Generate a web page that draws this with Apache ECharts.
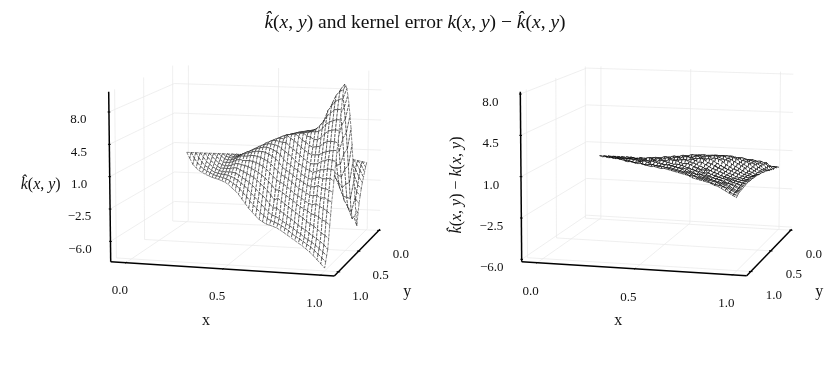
<!DOCTYPE html>
<html><head><meta charset="utf-8">
<style>html,body{margin:0;padding:0;background:#fff}#c{width:830px;height:374px}</style>
<script src="https://cdn.jsdelivr.net/npm/echarts@6/dist/echarts.min.js"></script>
</head><body><div id="c"></div>
<script>
// ---- chart values: rows are x = i/40, entries are y = j/40 for j = 0..i (triangle y <= x) ----
const kernelRows = [
[0],
[0,-.6],
[0,-.6,-1.2],
[0,-.5,-1,-1.5],
[0,-.4,-.9,-1.3,-1.7],
[0,-.4,-.8,-1.2,-1.5,-1.8],
[0,-.3,-.7,-1,-1.3,-1.6,-1.9],
[0,-.3,-.6,-.9,-1.2,-1.5,-1.7,-1.95],
[0,-.2,-.5,-.8,-1.1,-1.3,-1.6,-1.8,-2],
[0,-.2,-.4,-.7,-.9,-1.2,-1.4,-1.6,-1.8,-2],
[0,-.1,-.2,-.4,-.6,-.9,-1.1,-1.4,-1.6,-1.8,-2],
[0,0,-.1,-.2,-.3,-.5,-.8,-1,-1.3,-1.5,-1.8,-2.05],
[0,0,0,0,0,-.1,-.3,-.6,-.9,-1.2,-1.5,-1.8,-2.1],
[0,.05,.1,.2,.3,.3,.2,0,-.3,-.7,-1.1,-1.5,-1.9,-2.25],
[0,.1,.2,.3,.5,.6,.6,.5,.2,-.2,-.6,-1.1,-1.6,-2.1,-2.5],
[0,.1,.2,.4,.6,.8,.9,.8,.6,.2,-.2,-.7,-1.2,-1.7,-2.2,-2.7],
[0,.1,.3,.5,.7,.9,1.1,1.1,1,.7,.3,-.2,-.8,-1.4,-1.9,-2.5,-3],
[0,.1,.3,.5,.8,1,1.2,1.4,1.4,1.2,.9,.4,-.2,-.9,-1.5,-2.1,-2.8,-3.4],
[0,.1,.3,.6,.8,1.1,1.4,1.6,1.7,1.6,1.4,1,.4,-.3,-1,-1.7,-2.4,-3.1,-3.8],
[0,.2,.4,.6,.9,1.2,1.5,1.8,1.9,2,1.8,1.5,1,.4,-.4,-1.1,-1.9,-2.7,-3.5,-4.2],
[0,.2,.4,.7,1,1.3,1.6,1.9,2.1,2.3,2.2,2,1.6,1,.3,-.5,-1.3,-2.2,-3,-3.8,-4.5],
[0,.2,.4,.7,1,1.4,1.7,2,2.3,2.5,2.55,2.4,2.1,1.6,.9,.2,-.7,-1.6,-2.5,-3.3,-4.1,-4.8],
[0,.2,.5,.8,1.1,1.5,1.8,2.1,2.4,2.7,2.8,2.8,2.5,2.1,1.5,.8,0,-.9,-1.8,-2.7,-3.6,-4.4,-5.05],
[0,.2,.5,.8,1.2,1.5,1.9,2.3,2.6,2.8,3,3.05,2.9,2.5,2,1.4,.6,-.3,-1.2,-2.1,-3,-3.9,-4.6,-5.2],
[0,.2,.5,.8,1.2,1.6,2,2.4,2.7,3,3.2,3.3,3.2,2.9,2.5,1.9,1.2,.3,-.6,-1.5,-2.5,-3.4,-4.2,-4.8,-5.3],
[0,.2,.5,.8,1.2,1.6,2,2.4,2.8,3.1,3.3,3.5,3.5,3.2,2.9,2.3,1.7,.9,0,-.9,-1.9,-2.9,-3.7,-4.4,-4.9,-5.3],
[0,.2,.5,.8,1.2,1.6,2,2.5,2.9,3.2,3.45,3.6,3.65,3.7,3.7,3,2.08,1.27,.46,-.26,-.98,-1.79,-2.6,-3.59,-4.4,-4.94,-5.3],
[0,.2,.4,.8,1.2,1.6,2,2.5,2.9,3.3,3.55,3.7,3.8,3.85,3.85,3.48,2.65,1.92,1,.26,-.38,-1.12,-1.95,-2.77,-3.79,-4.52,-4.98,-5.35],
[0,.1,.4,.7,1.1,1.6,2,2.5,3,3.4,3.65,3.85,3.95,4,4,4,3.34,2.49,1.64,.88,.13,-.54,-1.29,-2.14,-3,-3.94,-4.69,-5.07,-5.45],
[0,.1,.3,.6,1,1.5,2,2.5,3,3.4,3.75,3.95,4.05,4.1,4.1,4.1,3.81,3.03,2.26,1.38,.61,-.07,-.75,-1.53,-2.3,-3.18,-4.15,-4.82,-5.21,-5.6],
[0,.1,.2,.5,.9,1.3,1.8,2.4,2.9,3.4,3.75,4,4.15,4.2,4.2,4.2,4.2,3.5,2.81,2.01,1.12,.52,-.28,-.97,-1.77,-2.47,-3.36,-4.26,-4.95,-5.35,-5.75],
[0,0,.1,.3,.6,1,1.5,2.1,2.7,3.3,3.7,4,4.2,4.3,4.3,4.3,4.3,4,3.38,2.57,1.75,1.04,.22,-.39,-1.21,-1.92,-2.74,-3.55,-4.47,-5.08,-5.59,-5.9],
[0,-.1,-.1,0,.2,.6,1.1,1.7,2.4,3,3.5,3.95,4.25,4.4,4.5,4.5,4.5,4.5,3.97,3.13,2.39,1.55,.81,.07,-.56,-1.3,-2.04,-2.89,-3.73,-4.68,-5.31,-5.73,-6.05],
[0,-.2,-.4,-.5,-.5,-.3,.2,.9,1.8,2.6,3.3,3.9,4.35,4.6,4.75,4.8,4.8,4.8,4.58,3.81,3.04,2.27,1.39,.73,-.04,-.7,-1.47,-2.24,-3.01,-3.89,-4.88,-5.43,-5.87,-6.2],
[0,-.2,-.4,-.6,-.8,-.9,-.9,-.8,-.3,.4,1.3,2.3,3.2,4,4.6,5,5.2,5.3,5.3,4.72,3.9,3.2,2.39,1.46,.64,-.06,-.76,-1.57,-2.39,-3.09,-4.14,-4.95,-5.65,-6,-6.35],
[0,-.3,-.6,-.9,-1.2,-1.5,-1.7,-1.7,-1.4,-.7,.2,1.2,2.3,3.4,4.4,5.1,5.6,5.9,6,5.75,5.12,4.24,3.36,2.49,1.61,.85,.23,-.65,-1.53,-2.41,-3.29,-4.29,-5.17,-5.8,-6.17,-6.55],
[-.1,-.3,-.7,-1.2,-1.7,-2.1,-2.5,-2.8,-2.6,-1.9,-.9,.3,1.6,2.9,4.1,5.2,6,6.6,7,7.1,6.55,5.72,4.75,3.78,2.81,1.98,1.14,.45,-.38,-1.35,-2.18,-3.29,-4.4,-5.37,-5.92,-6.33,-6.75],
[-.1,-.4,-.9,-1.5,-2.1,-2.7,-3.3,-3.9,-4,-3.4,-2.3,-1,.5,2.1,3.7,5.1,6.3,7.2,7.8,8,7.7,6.95,6.05,5.15,4.1,3.05,2.15,1.25,.35,-.55,-1.6,-2.35,-3.4,-4.6,-5.5,-6.1,-6.55,-7],
[-.2,-.5,-1,-1.7,-2.4,-3.1,-3.8,-4.5,-5,-4.6,-3.4,-1.8,0,1.8,3.6,5.2,6.6,7.6,8.3,8.7,8.9,8.25,7.44,6.31,5.34,4.2,3.23,2.42,1.45,.48,-.5,-1.31,-2.44,-3.57,-4.87,-5.68,-6.33,-6.81,-7.3],
[-.3,-.6,-1.1,-1.8,-2.6,-3.3,-4,-4.8,-5.5,-5.9,-5,-3.4,-1.5,.5,2.5,4.4,6,7.4,8.5,9.2,9.6,9.4,8.57,7.54,6.5,5.47,4.27,3.41,2.38,1.52,.66,-.55,-1.58,-2.61,-3.64,-5,-5.88,-6.57,-7.08,-7.6],
[-.4,-.8,-1.3,-1.8,-2.3,-2.9,-3.6,-4.4,-5.4,-6.7,-5.2,-3.3,-1.2,1,3,4.9,6.4,7.8,8.8,9.6,10,10.2,9.66,8.75,7.67,6.58,5.5,4.23,3.5,2.4,1.5,.43,-.66,-1.56,-2.83,-3.92,-5.2,-6.27,-6.8,-7.36,-7.9]
];
const errorRows = [
[-.2],
[-.2,-.2],
[-.2,-.2,-.1],
[-.2,-.2,-.1,-.1],
[-.2,-.2,-.1,-.1,0],
[-.2,-.2,-.2,-.1,0,0],
[-.2,-.3,-.1,-.2,0,0,.1],
[-.2,-.2,-.2,-.1,-.1,0,.1,.1],
[-.3,-.2,-.1,-.2,0,-.1,.1,0,.1],
[-.2,-.3,-.2,-.1,-.1,0,0,.2,.1,.1],
[-.3,-.2,-.1,-.2,0,-.1,.1,0,.2,.1,.2],
[-.2,-.3,-.1,0,-.2,.1,0,.2,.1,.3,.1,.2],
[-.3,-.1,-.2,0,-.1,.2,-.1,.2,.1,.3,.2,.3,.2],
[-.2,-.3,0,-.2,.1,0,.3,0,.2,.3,.1,.4,.2,.3],
[-.3,-.1,-.3,.1,-.1,.3,0,.2,.4,.1,.3,.2,.4,.2,.3],
[-.2,-.3,.1,-.2,.2,-.1,.3,.1,.4,.1,.4,.2,.5,.3,.3,.3],
[-.3,0,-.3,.2,-.1,.4,-.1,.3,.1,.5,.2,.4,.3,.5,.3,.4,.3],
[-.2,-.3,.2,-.2,.3,0,.4,.1,.5,.1,.4,.2,.6,.3,.5,.3,.4,.4],
[-.3,.1,-.3,.3,-.2,.5,-.1,.4,.2,.6,.1,.5,.3,.6,.4,.5,.4,.4,.4],
[-.2,-.3,.2,-.2,.4,-.1,.5,0,.6,.2,.5,.3,.7,.3,.6,.4,.5,.4,.5,.4],
[-.3,.1,-.4,.4,-.2,.6,0,.5,.1,.7,.2,.6,.4,.7,.3,.6,.5,.6,.4,.5,.5],
[-.2,-.4,.3,-.3,.5,-.1,.6,.1,.7,.1,.6,.3,.7,.4,.8,.4,.6,.5,.6,.5,.5,.5],
[-.3,.2,-.4,.5,-.2,.7,-.1,.6,.2,.8,.2,.7,.3,.8,.5,.7,.4,.7,.5,.6,.5,.5,.5],
[-.2,-.4,.3,-.4,.6,-.2,.7,0,.7,.1,.8,.2,.7,.5,.9,.4,.7,.6,.7,.5,.6,.5,.5,.5],
[-.3,.1,-.5,.5,-.3,.7,-.1,.8,.1,.9,.2,.8,.4,.9,.4,.8,.6,.8,.5,.7,.6,.6,.5,.5,.5],
[-.2,-.4,.3,-.4,.6,-.2,.8,0,.8,.2,.9,.3,.9,.4,.9,.6,.8,.5,.8,.6,.6,.6,.5,.5,.5,.5],
[-.3,.2,-.5,.5,-.3,.7,-.1,.8,.1,.9,.2,.9,.5,1,.5,.8,.6,.8,.6,.7,.5,.6,.5,.5,.5,.5,.5],
[-.3,-.4,.3,-.5,.6,-.2,.8,0,.9,.2,1,.3,.9,.5,1,.6,.9,.5,.7,.6,.6,.5,.6,.5,.5,.5,.4,.5],
[-.3,.1,-.5,.5,-.4,.7,-.1,.9,.1,1,.2,.9,.4,1,.6,.8,.6,.8,.5,.7,.5,.6,.5,.5,.4,.5,.4,.5,.4],
[-.3,-.4,.2,-.5,.6,-.3,.8,0,.9,.1,1,.3,1,.5,.9,.5,.8,.5,.7,.6,.5,.6,.4,.5,.4,.5,.4,.4,.4,.4],
[-.4,.1,-.5,.4,-.4,.7,-.2,.9,0,1,.2,.9,.4,1,.5,.8,.6,.7,.5,.6,.4,.6,.4,.5,.4,.4,.4,.4,.4,.4,.4],
[-.3,-.5,.2,-.5,.5,-.3,.8,-.1,.9,.1,.9,.3,.9,.4,.9,.5,.7,.5,.6,.4,.6,.4,.5,.3,.5,.4,.4,.4,.4,.4,.4,.4],
[-.4,0,-.5,.4,-.5,.6,-.2,.8,0,.9,.1,.9,.3,.9,.4,.7,.5,.6,.4,.6,.3,.5,.3,.5,.4,.4,.3,.4,.3,.4,.4,.4,.4],
[-.3,-.5,.2,-.5,.5,-.4,.7,-.1,.8,0,.9,.2,.8,.3,.7,.4,.6,.4,.5,.3,.5,.2,.5,.3,.4,.3,.4,.3,.4,.3,.4,.4,.3,.4],
[-.4,-.1,-.5,.3,-.5,.5,-.3,.7,0,.7,.1,.7,.2,.7,.3,.6,.3,.5,.3,.5,.2,.4,.3,.4,.3,.4,.3,.4,.3,.4,.3,.3,.4,.3,.3],
[-.4,-.5,.1,-.6,.4,-.4,.5,-.2,.6,0,.7,.1,.6,.2,.6,.3,.5,.2,.5,.2,.4,.2,.4,.2,.4,.3,.3,.3,.4,.3,.3,.3,.3,.3,.3,.3],
[-.4,-.2,-.6,.2,-.5,.4,-.3,.5,-.1,.5,0,.6,.1,.5,.2,.5,.2,.4,.1,.4,.2,.4,.1,.3,.2,.3,.3,.3,.3,.3,.2,.3,.3,.3,.2,.3,.2],
[-.5,-.4,0,-.6,.3,-.5,.3,-.2,.4,-.1,.5,0,.4,.1,.4,.1,.3,.1,.3,.2,.3,.1,.3,.1,.3,.2,.3,.2,.3,.2,.3,.2,.3,.2,.2,.2,.2,.1],
[-.5,-.3,-.5,.1,-.5,.2,-.3,.3,-.2,.3,-.1,.3,0,.3,0,.3,.1,.3,.1,.3,.1,.3,.2,.3,.2,.3,.2,.3,.2,.3,.2,.3,.2,.2,.1,.1,.1,0,0],
[-.5,-.4,-.3,-.4,-.1,-.4,.1,-.3,.1,-.1,.1,-.1,.2,0,.2,0,.2,.1,.2,.1,.2,.2,.3,.2,.3,.2,.3,.3,.3,.2,.3,.2,.2,.1,.1,0,0,0,-.1,-.1],
[-.5,-.4,-.4,-.3,-.3,-.3,-.2,-.2,-.1,-.1,0,0,.1,.1,.1,.2,.2,.25,.2,.25,.3,.3,.3,.3,.3,.35,.3,.3,.3,.35,.3,.25,.25,.2,.15,.1,.1,.05,0,-.1,-.2]
];
const xTickValues = [0, 0.5, 1];
const yTickValues = [0, 0.5, 1];
const zTickValues = [8, 4.5, 1, -2.5, -6];
const xTickLabels = ['0.0', '0.5', '1.0'];
const yTickLabels = ['0.0', '0.5', '1.0'];
const zTickLabels = ['8.0', '4.5', '1.0', '\u22122.5', '\u22126.0'];

// ---- view frames (the library has no 3D axes without GL, so a projection feeds a pixel cartesian) ----
const leftView = {
  FL:[110.7,261.7], FR:[334.3,276], BR:[380,229.3], BL:[174.3,220],
  FLt:[108.7,91.7], FRt:[333.3,99], BRt:[381.7,71], BLt:[174.3,65],
  u0:.068, u1:.87, v0:.975, v1:-.885, zMin:-8.2, zMax:10.2,
  xLab:[-6,28], yLab:[22,24.5], zLab:[-30.5,8],
  xName:[206,321], yName:[407.3,291.7], zName:[40.7,185], zRot:0,
  wire:{stroke:'#111',lineWidth:.5,lineDash:[3,1],fill:null}
};
const rightView = {
  FL:[521.7,261.7], FR:[746.7,275.7], BR:[791.7,229.3], BL:[586.7,217.3],
  FLt:[520.3,91.7], FRt:[745.3,98], BRt:[793.3,72], BLt:[586.7,66],
  u0:.069, u1:.869, v0:.98, v1:-.89, zMin:-6.2, zMax:8.2,
  xLab:[-6.5,28.5], yLab:[23,24.2], zLab:[-30,8.5],
  xName:[618.3,321], yName:[819.3,291.7], zName:[456.7,185], zRot:Math.PI/2,
  wire:{stroke:'#000',lineWidth:.65,lineDash:[3,.8],fill:null}
};

const FONT = '"Liberation Serif","Times New Roman",serif';
const lerp = (a,b,t)=>[a[0]+(b[0]-a[0])*t, a[1]+(b[1]-a[1])*t];
function boxPoint(f,u,v,w){
  const floor = lerp(lerp(f.FL,f.FR,u), lerp(f.BL,f.BR,u), v);
  const top = lerp(lerp(f.FLt,f.FRt,u), lerp(f.BLt,f.BRt,u), v);
  return lerp(floor,top,w);
}
const U=(f,x)=>f.u0+f.u1*x, V=(f,y)=>f.v0+f.v1*y, W=(f,z)=>(z-f.zMin)/(f.zMax-f.zMin);
const surfacePoint=(f,rows,i,j)=>boxPoint(f,U(f,i/(rows.length-1)),V(f,j/(rows.length-1)),W(f,rows[i][j]));

function gridSegments(f){
  const s=[];
  xTickValues.forEach(x=>{const u=U(f,x); s.push([[u,0,0],[u,1,0]],[[u,1,0],[u,1,1]]);});
  yTickValues.forEach(y=>{const v=V(f,y); s.push([[0,v,0],[1,v,0]],[[0,v,0],[0,v,1]]);});
  zTickValues.forEach(z=>{const w=W(f,z); s.push([[0,0,w],[0,1,w]],[[0,1,w],[1,1,w]]);});
  return s;
}
function axisSegments(){
  return [[[0,0,0],[1,0,0]],[[1,0,0],[1,1,0]],[[0,0,0],[0,0,1]]];
}
function tickSegments(f){
  const s=[];
  xTickValues.forEach(x=>{const u=U(f,x); s.push([[u,-.012,0],[u,.012,0]]);});
  yTickValues.forEach(y=>{const v=V(f,y); s.push([[1.008,v,0],[.992,v,0]]);});
  zTickValues.forEach(z=>{const w=W(f,z); s.push([[-.006,0,w],[.006,0,w]]);});
  return s;
}
function lineSeries(f,segs,style){
  return {type:'custom',coordinateSystem:'cartesian2d',silent:true,animation:false,clip:false,
    data:segs.map((_,k)=>[k,0]),
    renderItem(p,api){
      const sg=segs[p.dataIndex];
      const a=api.coord(boxPoint(f,...sg[0])), b=api.coord(boxPoint(f,...sg[1]));
      return {type:'line',shape:{x1:a[0],y1:a[1],x2:b[0],y2:b[1]},style};
    }};
}
// mesh lines run along x = const and along x - y = const, painted far to near so the front hides the back
function surfaceSeries(f,rows){
  const cells=[];
  for(let i=1;i<rows.length;i++) for(let j=0;j<i;j++) cells.push([i,j]);
  return {type:'custom',coordinateSystem:'cartesian2d',silent:true,animation:false,clip:false,
    data:cells,
    renderItem(p,api){
      const [i,j]=cells[p.dataIndex];
      const pts=j===0 ? [[i-1,0],[i,1],[i,0]] : [[i-1,j-1],[i-1,j],[i,j+1],[i,j]];
      const c=pts.map(q=>api.coord(surfacePoint(f,rows,q[0],q[1])));
      const seg=(a,b)=>({type:'line',shape:{x1:c[a][0],y1:c[a][1],x2:c[b][0],y2:c[b][1]},style:f.wire});
      const edges=j===0 ? [seg(0,1),seg(2,1),seg(0,2)] : [seg(0,1),seg(3,2),seg(0,3),seg(1,2)];
      return {type:'group',children:[{type:'polygon',shape:{points:c},style:{fill:'#fff',stroke:null}},...edges]};
    }};
}
const mathRich=size=>({i:{fontFamily:FONT,fontStyle:'italic',fontWeight:'normal',fontSize:size,fill:'#111',color:'#111'},
  r:{fontFamily:FONT,fontWeight:'normal',fontSize:size,fill:'#111',color:'#111'}});
const KHAT='{i|k\u0302}{r|(}{i|x}{r|, }{i|y}{r|)}';
function labelSeries(f,zName){
  const items=[];
  xTickValues.forEach((x,k)=>{items.push({at:[U(f,x),0,0],off:f.xLab,text:xTickLabels[k],size:13});});
  yTickValues.forEach((y,k)=>{items.push({at:[1,V(f,y),0],off:f.yLab,text:yTickLabels[k],size:13});});
  zTickValues.forEach((z,k)=>{items.push({at:[0,0,W(f,z)],off:f.zLab,text:zTickLabels[k],size:13});});
  const names=[{pos:f.xName,text:'x',size:16},{pos:f.yName,text:'y',size:16},{pos:f.zName,text:zName,size:16,rich:true,rot:f.zRot}];
  const all=items.concat(names);
  return {type:'custom',coordinateSystem:'cartesian2d',silent:true,animation:false,clip:false,
    data:all.map((_,k)=>[k,0]),
    renderItem(p,api){
      const it=all[p.dataIndex];
      let c;
      if(it.pos){c=api.coord(it.pos);} else {const q=boxPoint(f,...it.at); c=api.coord([q[0]+it.off[0],q[1]+it.off[1]]);}
      const style={text:it.text,align:'center',verticalAlign:'middle',fill:'#111',font:it.size+'px '+FONT};
      if(it.rich) style.rich=mathRich(it.size);
      return {type:'text',x:c[0],y:c[1],rotation:it.rot||0,style};
    }};
}
function panel(f,rows,zName){
  return [
    lineSeries(f,gridSegments(f),{stroke:'#e8e8e8',lineWidth:.7}),
    surfaceSeries(f,rows),
    lineSeries(f,axisSegments(),{stroke:'#000',lineWidth:1.5}),
    lineSeries(f,tickSegments(f),{stroke:'#000',lineWidth:1}),
    labelSeries(f,zName)
  ];
}
const chart=echarts.init(document.getElementById('c'),null,{renderer:'canvas'});
chart.setOption({
  animation:false,
  backgroundColor:'#fff',
  title:{left:'center',top:8,
    text:KHAT+'{r| and kernel error }{i|k}{r|(}{i|x}{r|, }{i|y}{r|) \u2212 }'+KHAT,
    textStyle:{fontWeight:'normal',rich:mathRich(19.5)}},
  grid:{left:0,right:0,top:0,bottom:0},
  xAxis:{type:'value',min:0,max:830,show:false},
  yAxis:{type:'value',min:0,max:374,inverse:true,show:false},
  series:[...panel(leftView,kernelRows,KHAT),
          ...panel(rightView,errorRows,'{i|k\u0302}{r|(}{i|x}{r|, }{i|y}{r|) \u2212 }{i|k}{r|(}{i|x}{r|, }{i|y}{r|)}')]
});
</script></body></html>
